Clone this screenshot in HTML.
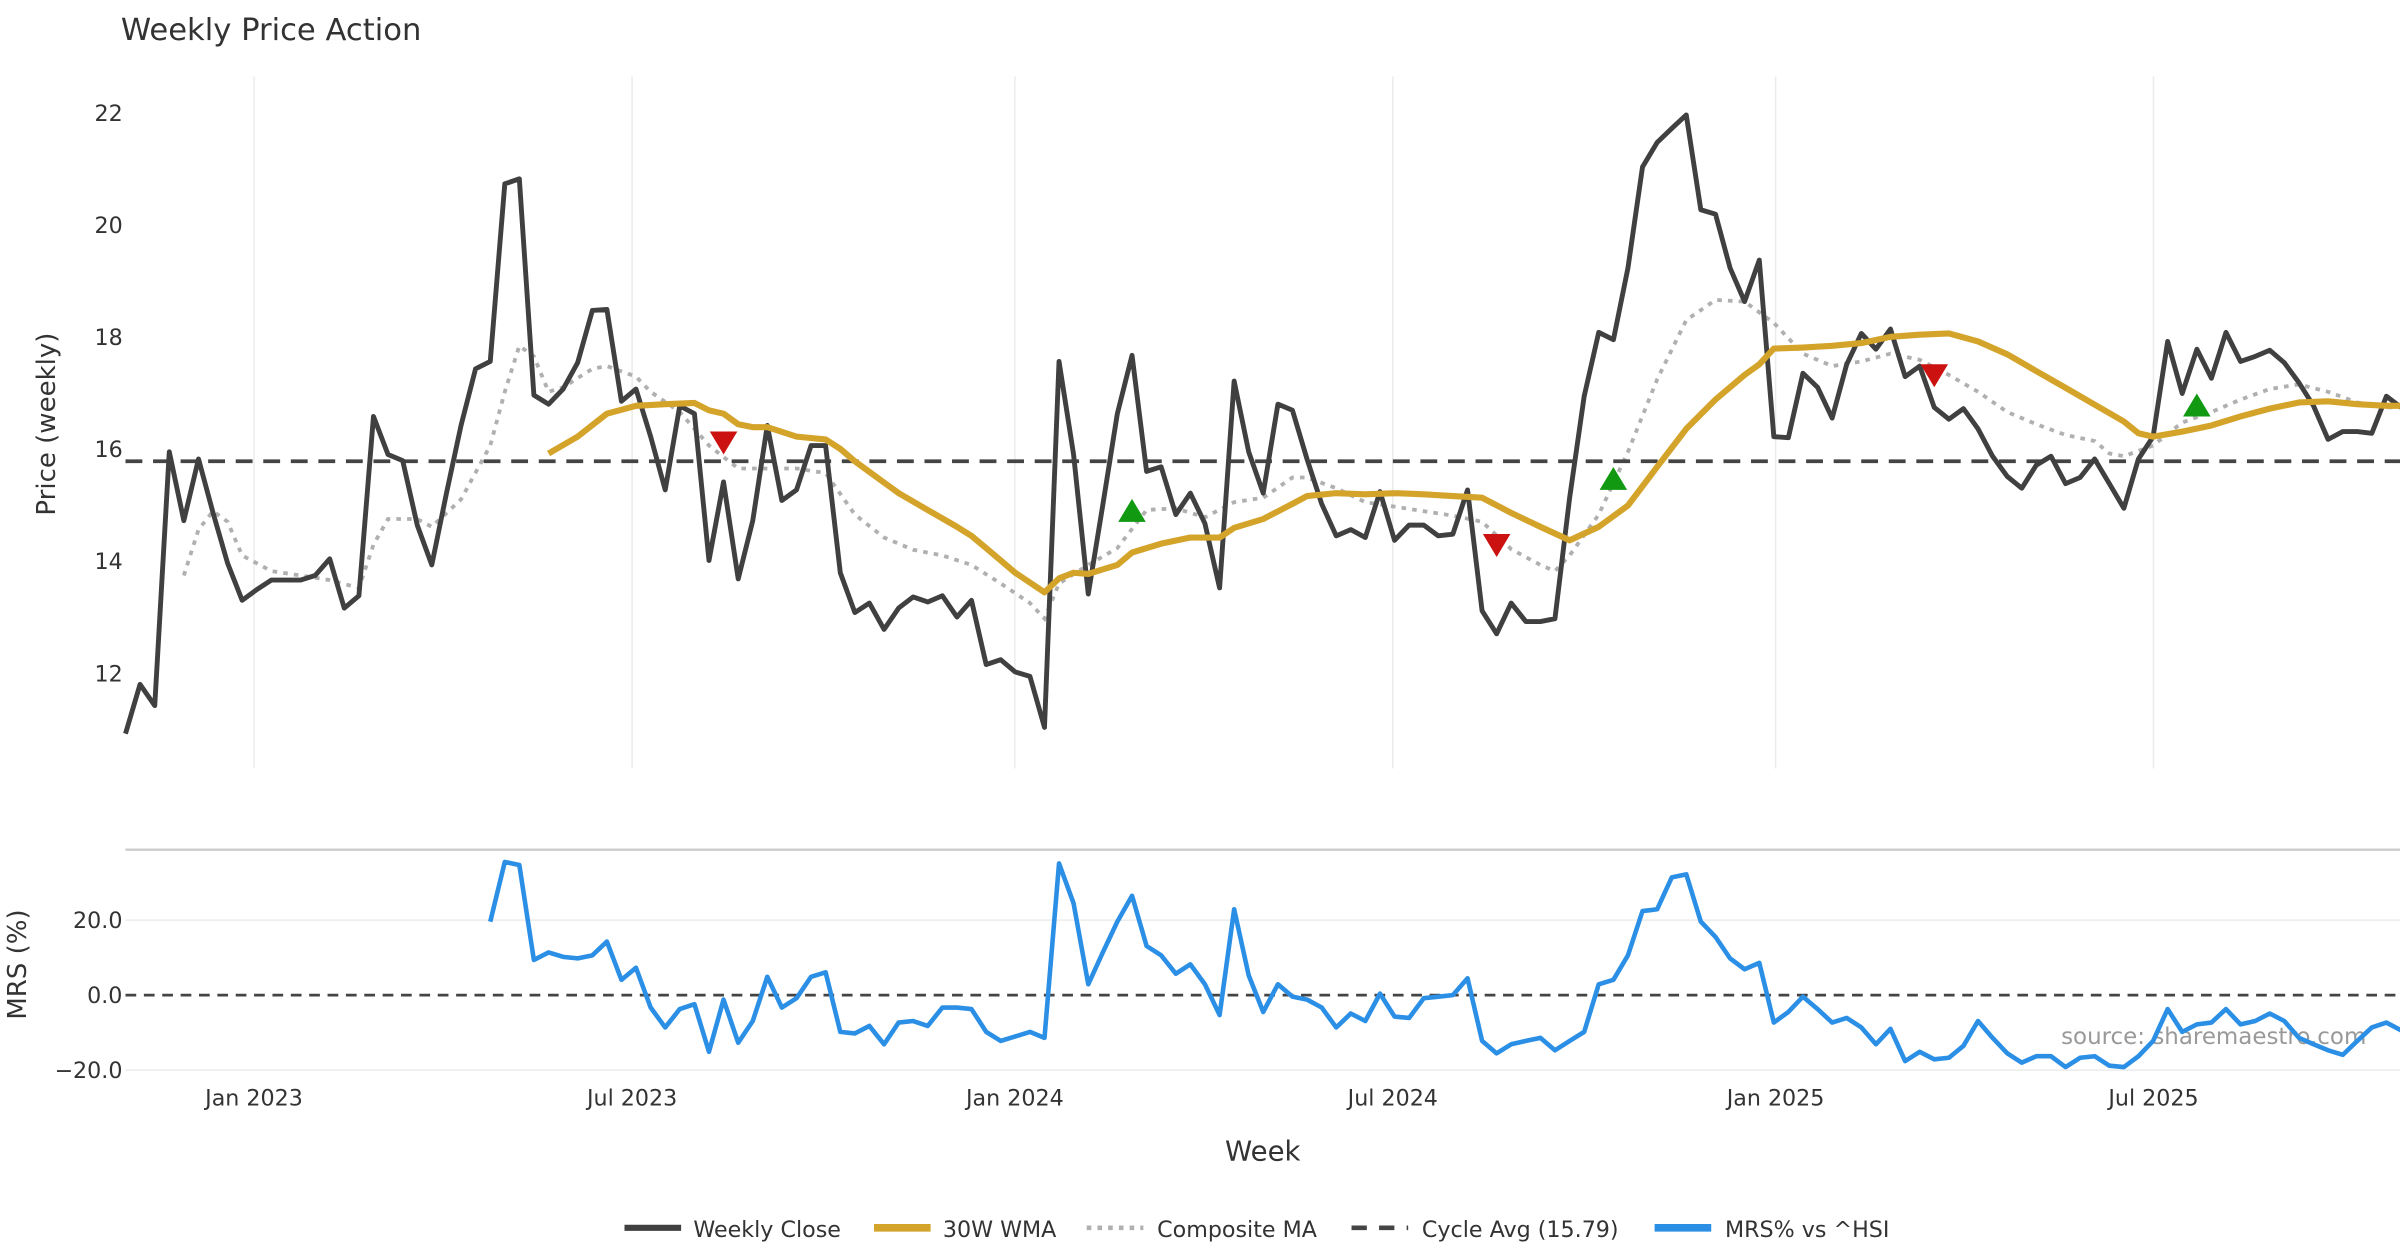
<!DOCTYPE html>
<html><head><meta charset="utf-8"><style>
html,body{margin:0;padding:0;background:#fff;}
svg{display:block;font-family:"DejaVu Sans","Liberation Sans",sans-serif;}
</style></head><body>
<svg id="chart" width="2400" height="1260" viewBox="0 0 1568 823" preserveAspectRatio="none" xmlns="http://www.w3.org/2000/svg">
<text x="79" y="26" font-size="20" fill="#333">Weekly Price Action</text>
<text transform="translate(36,277) rotate(-90)" text-anchor="middle" font-size="17" fill="#333">Price (weekly)</text>
<text transform="translate(17,630) rotate(-90)" text-anchor="middle" font-size="17" fill="#333">MRS (%)</text>
<text x="825" y="758" text-anchor="middle" font-size="18" fill="#333">Week</text>
<line x1="82" y1="555" x2="1568" y2="555" stroke="#ccc" stroke-width="1.5"/>
<g id="grid"></g><g id="ticks"></g>
<text x="1546" y="682" text-anchor="end" font-size="15" fill="#999">source: sharemaestro.com</text>
<g id="series"></g>
<g id="legend"></g>
</svg>
<script>
const startWeek = 0;
const closeVals = [10.93,11.81,11.43,15.96,14.73,15.83,14.87,13.97,13.31,13.50,13.67,13.67,13.67,13.75,14.05,13.17,13.39,16.59,15.91,15.80,14.65,13.94,15.22,16.43,17.44,17.57,20.74,20.83,16.97,16.81,17.08,17.55,18.48,18.50,16.86,17.08,16.23,15.28,16.78,16.64,14.02,15.42,13.69,14.73,16.43,15.09,15.28,16.07,16.07,13.80,13.09,13.26,12.79,13.17,13.37,13.28,13.39,13.01,13.31,12.16,12.25,12.03,11.95,11.04,17.57,15.91,13.42,15.01,16.64,17.68,15.61,15.69,14.84,15.22,14.68,13.53,17.22,15.96,15.22,16.81,16.70,15.83,15.03,14.46,14.57,14.43,15.25,14.38,14.65,14.65,14.46,14.49,15.28,13.12,12.71,13.26,12.93,12.93,12.98,15.14,16.95,18.09,17.96,19.24,21.04,21.48,21.73,21.97,20.28,20.20,19.24,18.64,19.38,16.23,16.21,17.36,17.11,16.56,17.52,18.07,17.79,18.15,17.30,17.49,16.75,16.54,16.73,16.37,15.88,15.52,15.31,15.72,15.88,15.39,15.50,15.83,15.39,14.95,15.83,16.23,17.93,17.00,17.79,17.27,18.09,17.57,17.66,17.77,17.55,17.19,16.78,16.18,16.32,16.32,16.29,16.95,16.75];
const wmaWeeks = [29,31,33,35,37,39,40,41,42,43,44,46,48,49,50,51,53,55,57,58,59,61,63,64,65,66,67,68,69,71,73,75,76,78,80,81,83,85,87,89,91,93,95,97,99,101,103,105,107,109,111,112,113,115,117,119,121,123,125,127,129,131,133,135,137,138,139,141,143,145,147,149,151,153,155,156];
const wmaVals = [15.93,16.23,16.64,16.78,16.81,16.83,16.70,16.64,16.45,16.40,16.40,16.23,16.18,16.01,15.79,15.60,15.22,14.92,14.62,14.46,14.24,13.80,13.45,13.70,13.80,13.78,13.86,13.94,14.16,14.32,14.43,14.43,14.60,14.76,15.03,15.17,15.22,15.20,15.22,15.20,15.17,15.14,14.87,14.62,14.38,14.62,15.00,15.69,16.37,16.89,17.33,17.52,17.80,17.82,17.85,17.90,18.01,18.05,18.07,17.93,17.70,17.40,17.10,16.80,16.50,16.29,16.23,16.32,16.43,16.59,16.73,16.84,16.86,16.81,16.78,16.78];
const compWeeks = [4,5,6,7,8,10,12,14,16,17,18,20,21,23,25,26,27,28,29,30,32,33,35,36,38,40,42,44,46,48,50,52,54,56,58,60,62,63,64,66,68,70,72,74,76,78,80,81,83,85,87,89,91,93,95,97,98,99,101,103,105,107,109,111,113,115,117,119,121,123,125,127,129,131,133,135,136,137,139,141,143,145,147,149,151,153,155,156];
const compVals = [13.75,14.57,14.90,14.71,14.11,13.83,13.75,13.67,13.53,14.30,14.76,14.76,14.62,15.11,16.07,17.03,17.85,17.66,17.03,17.11,17.44,17.49,17.30,17.03,16.67,16.07,15.66,15.66,15.66,15.58,14.84,14.43,14.21,14.11,13.94,13.61,13.26,12.98,13.61,13.94,14.24,14.92,14.95,14.79,15.06,15.14,15.50,15.50,15.31,15.06,14.98,14.90,14.82,14.71,14.22,13.94,13.83,14.11,14.84,15.96,17.25,18.31,18.67,18.64,18.26,17.71,17.49,17.57,17.71,17.60,17.33,17.03,16.67,16.45,16.26,16.15,15.93,15.88,16.07,16.48,16.67,16.89,17.08,17.16,17.03,16.84,16.75,16.75];
const sigDownWeeks = [41,94,124];
const sigDownVals = [16.13,14.30,17.33];
const sigUpWeeks = [69,102,142];
const sigUpVals = [14.90,15.47,16.78];
const cycleAvg = 15.79;
const mrsStart = 25;
const mrsVals = [19.6,35.5,34.7,9.4,11.4,10.2,9.8,10.6,14.3,4.1,7.3,-3.3,-8.6,-3.7,-2.4,-15.1,-1.2,-12.7,-6.9,4.9,-3.3,-0.8,4.9,6.1,-9.8,-10.2,-8.2,-13.1,-7.3,-6.9,-8.2,-3.3,-3.3,-3.7,-9.8,-12.2,-11.0,-9.8,-11.4,35.1,24.5,2.9,11.4,19.6,26.5,13.1,10.6,5.7,8.2,2.9,-5.3,22.9,5.3,-4.5,2.9,-0.4,-1.2,-3.3,-8.6,-4.9,-6.9,0.4,-5.7,-6.1,-0.8,-0.4,0,4.5,-12.2,-15.5,-13.1,-12.2,-11.4,-14.7,-12.2,-9.8,2.9,4.1,10.6,22.4,22.9,31.4,32.2,19.6,15.5,9.8,6.9,8.6,-7.3,-4.5,-0.4,-3.7,-7.3,-6.1,-8.6,-13.1,-9.0,-17.6,-15.1,-17.1,-16.7,-13.5,-6.9,-11.4,-15.5,-18.0,-16.3,-16.3,-19.2,-16.7,-16.3,-18.8,-19.2,-16.3,-12.2,-3.7,-9.8,-7.8,-7.3,-3.7,-7.8,-6.9,-4.9,-6.9,-11.4,-13.1,-14.7,-15.9,-12.2,-8.6,-7.3,-9.4];
const priceTicks = [12,14,16,18,20,22];
const mrsTicks = [20,0,-20];
const mrsTickLabels = ["20.0","0.0","\u221220.0"];
const dateTicks = [8.81,34.73,60.97,86.88,113.12,139.03];
const dateTickLabels = ["Jan 2023","Jul 2023","Jan 2024","Jul 2024","Jan 2025","Jul 2025"];

const NS="http://www.w3.org/2000/svg";
const X=i=>82+i*9.53;
const Yp=v=>440-(v-12)*36.6;
const Ym=v=>650-v*2.45;
function mk(tag,attrs,parent){const e=document.createElementNS(NS,tag);for(const k in attrs)e.setAttribute(k,attrs[k]);parent.appendChild(e);return e;}
const grid=document.getElementById('grid'),ticks=document.getElementById('ticks'),ser=document.getElementById('series'),leg=document.getElementById('legend');
dateTicks.forEach((d,k)=>{
  const g1=mk('line',{x1:X(d),x2:X(d),y1:50,y2:502,stroke:'#ececec','stroke-width':1},grid);
  
  
  const t=mk('text',{x:X(d),y:722,'text-anchor':'middle','font-size':14.5,fill:'#333'},ticks);
  t.textContent=dateTickLabels[k];
  
  
});
priceTicks.forEach(v=>{
  const t=mk('text',{x:71,y:Yp(v)+5,'text-anchor':'middle','font-size':14.5,fill:'#333'},ticks);
  t.textContent=v;
  
  
});
mrsTicks.forEach((v,k)=>{
  if(v!==0){const g=mk('line',{x1:82,x2:1568,y1:Ym(v),y2:Ym(v),stroke:'#ececec','stroke-width':1},grid);
  
  }
  const t=mk('text',{x:80,y:Ym(v)+5,'text-anchor':'end','font-size':14.5,fill:'#333'},ticks);
  t.textContent=mrsTickLabels[k];
  
  
});
function pts(idx,vals,Y){return vals.map((v,k)=>X(idx(k)).toFixed(1)+','+Y(v).toFixed(1)).join(' ');}
const comp=mk('polyline',{points:pts(k=>compWeeks[k],compVals,Yp),fill:'none',stroke:'#b0b0b0','stroke-width':2.5,'stroke-dasharray':'3 4'},ser);


const cyc=mk('line',{x1:82,x2:1568,y1:Yp(cycleAvg),y2:Yp(cycleAvg),stroke:'#444','stroke-width':2.5,'stroke-dasharray':'11 7'},ser);


const close=mk('polyline',{points:pts(k=>startWeek+k,closeVals,Yp),fill:'none',stroke:'#404040','stroke-width':3.2,'stroke-linejoin':'round'},ser);


const wma=mk('polyline',{points:pts(k=>wmaWeeks[k],wmaVals,Yp),fill:'none',stroke:'#d4a42a','stroke-width':4,'stroke-linejoin':'round'},ser);


sigDownWeeks.forEach((w,k)=>{const x=X(w),y=Yp(sigDownVals[k]);
  const p=mk('polygon',{points:`${x-9},${y-7} ${x+9},${y-7} ${x},${y+8}`,fill:'#cc1111'},ser);
  
  });
sigUpWeeks.forEach((w,k)=>{const x=X(w),y=Yp(sigUpVals[k]);
  const p=mk('polygon',{points:`${x-9},${y+7} ${x+9},${y+7} ${x},${y-8}`,fill:'#119911'},ser);
  
  });
const z=mk('line',{x1:82,x2:1568,y1:Ym(0),y2:Ym(0),stroke:'#444','stroke-width':1.8,'stroke-dasharray':'7 5'},ser);


const mrs=mk('polyline',{points:pts(k=>mrsStart+k,mrsVals,Ym),fill:'none',stroke:'#2b8fe6','stroke-width':3,'stroke-linejoin':'round'},ser);


const items=[[408,453,'Weekly Close','#404040',4,''],[571,616,'30W WMA','#d4a42a',5,''],[710,756,'Composite MA','#b0b0b0',3,'3 4'],[883,929,'Cycle Avg (15.79)','#444',3,'10 8'],[1081,1127,'MRS% vs ^HSI','#2b8fe6',5,'']];
items.forEach(it=>{
  const l=mk('line',{x1:it[0],x2:it[0]+37,y1:802,y2:802,stroke:it[3],'stroke-width':it[4],'stroke-dasharray':it[5]},leg);
  
  
  const t=mk('text',{x:it[1],y:808,'font-size':14.5,fill:'#333'},leg);
  t.textContent=it[2];
  
  
});
</script>
</body></html>
